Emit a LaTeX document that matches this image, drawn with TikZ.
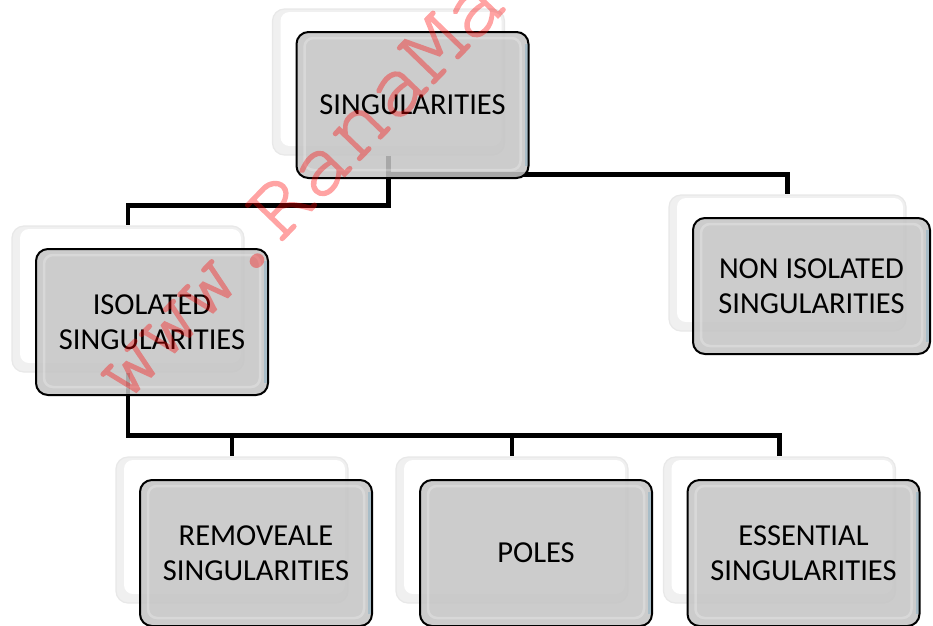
\documentclass[tikz,border=0pt]{standalone}
\usepackage{fontspec}
\setmainfont{Carlito}
\newfontfamily\wmfont[FakeBold=1.6]{texgyrecursor-regular.otf}
\usetikzlibrary{backgrounds}
\definecolor{edgeblue}{RGB}{165,188,200}
\begin{document}
\begin{tikzpicture}[x=1pt,y=-1pt,
  link/.style={line width=4.3pt, line join=miter, draw=black},
  plate/.style={rounded corners=12pt, fill=black!6, draw=black!9, line width=1.2pt,
    minimum width=232pt, minimum height=146pt, inner sep=0pt,
    path picture={
      \fill[white, rounded corners=9pt]
        ([xshift=8pt,yshift=9pt]path picture bounding box.south west) rectangle
        ([xshift=-3pt,yshift=-3pt]path picture bounding box.north east);}},
  card/.style={rounded corners=12pt, fill=black!23, fill opacity=0.86, text opacity=1,
    draw=black, draw opacity=1, line width=2pt,
    minimum width=232pt, minimum height=146pt, inner sep=0pt,
    align=center, font=\fontsize{30.5}{35}\selectfont,
    path picture={
      \draw[white, opacity=0.25, line width=2.5pt, rounded corners=9pt]
        ([xshift=8pt,yshift=8pt]path picture bounding box.south west) rectangle
        ([xshift=-8pt,yshift=-6pt]path picture bounding box.north east);
      \draw[edgeblue, opacity=0.9, line width=3pt]
        ([xshift=-2.5pt,yshift=-12pt]path picture bounding box.north east) --
        ([xshift=-2.5pt,yshift=12pt]path picture bounding box.south east);}},
  short/.style={minimum width=237pt, minimum height=136pt}]
\clip (0,0) rectangle (933,625);

% back plates
\node[plate] (topS) at (388.5,82) {};
\node[plate] (isoS) at (128,299) {};
\node[plate,short] (nonS) at (787.5,263) {};
\node[plate] (remS) at (232,530) {};
\node[plate] (polS) at (512,530) {};
\node[plate] (essS) at (779.5,530) {};

% page and tree connectors, behind the plates
\begin{scope}[on background layer]
  \fill[white] (0,0) rectangle (933,625);
  \draw[link] (topS.south) -- ++(0,50) -| (isoS.north);
  \draw[link] (topS.south) -- ++(0,19) -| (nonS.north);
  \draw[link] (isoS.south) -- ++(0,63) -| (remS.north);
  \draw[link] (isoS.south) -- ++(0,63) -| (polS.north);
  \draw[link] (isoS.south) -- ++(0,63) -| (essS.north);
\end{scope}

% front cards
\node[card] (top) at (412.5,105) {SINGULARITIES};
\node[card] (iso) at (152,322) {ISOLATED\\SINGULARITIES};
\node[card,short] (non) at (811.5,286) {NON ISOLATED\\SINGULARITIES};
\node[card] (rem) at (256,553) {REMOVEALE\\SINGULARITIES};
\node[card] (pol) at (536,553) {POLES};
\node[card] (ess) at (803.5,553) {ESSENTIAL\\SINGULARITIES};

% watermark, composited as one group so the stroked glyphs stay even
\begin{scope}[transparency group, opacity=0.36]
  \node[anchor=base west, rotate=46, inner sep=0pt, text=red,
    font=\wmfont\fontsize{92}{92}\selectfont] (mark) at (126,403) {www.RanaMa};
\end{scope}
\end{tikzpicture}
\end{document}
